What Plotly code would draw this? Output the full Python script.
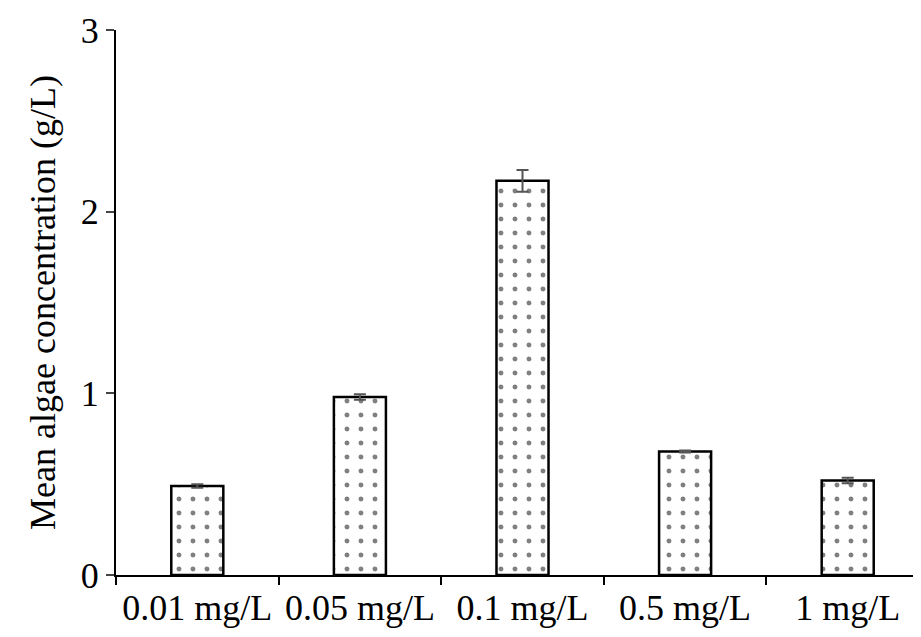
import plotly.graph_objects as go

categories = ["0.01 mg/L", "0.05 mg/L", "0.1 mg/L", "0.5 mg/L", "1 mg/L"]
means = [0.49, 0.98, 2.17, 0.68, 0.52]
errors = [0.01, 0.015, 0.06, 0.005, 0.015]
y_ticks = [0, 1, 2, 3]

fig = go.Figure(go.Bar(
    x=categories, y=means, width=0.32,
    marker=dict(color="white", line=dict(color="black", width=2.5),
                pattern=dict(shape=".", fgcolor="black", size=14, solidity=0.1)),
    error_y=dict(type="data", array=errors, color="#555555", thickness=2, width=6),
))
fig.update_layout(
    width=921, height=637, plot_bgcolor="white", paper_bgcolor="white",
    margin=dict(l=108, r=0, t=22, b=70, autoexpand=False), showlegend=False,
    font=dict(family="Liberation Serif", size=36, color="black"),
)
fig.update_xaxes(showline=True, linecolor="black", linewidth=2, ticks="outside",
                 tickson="boundaries", ticklen=8, tickwidth=2, tickcolor="black",
                 range=[-0.5, 4.5], tickfont=dict(size=36), automargin=False)
fig.update_yaxes(range=[0, 3], tickvals=y_ticks, showline=True, linecolor="black",
                 linewidth=2, ticks="outside", ticklen=8, tickwidth=2, showgrid=False,
                 tickfont=dict(size=36), automargin=False,
                 title=dict(text="Mean algae concentration (g/L)", standoff=14, font=dict(size=36)))
fig.write_html("out.html")
